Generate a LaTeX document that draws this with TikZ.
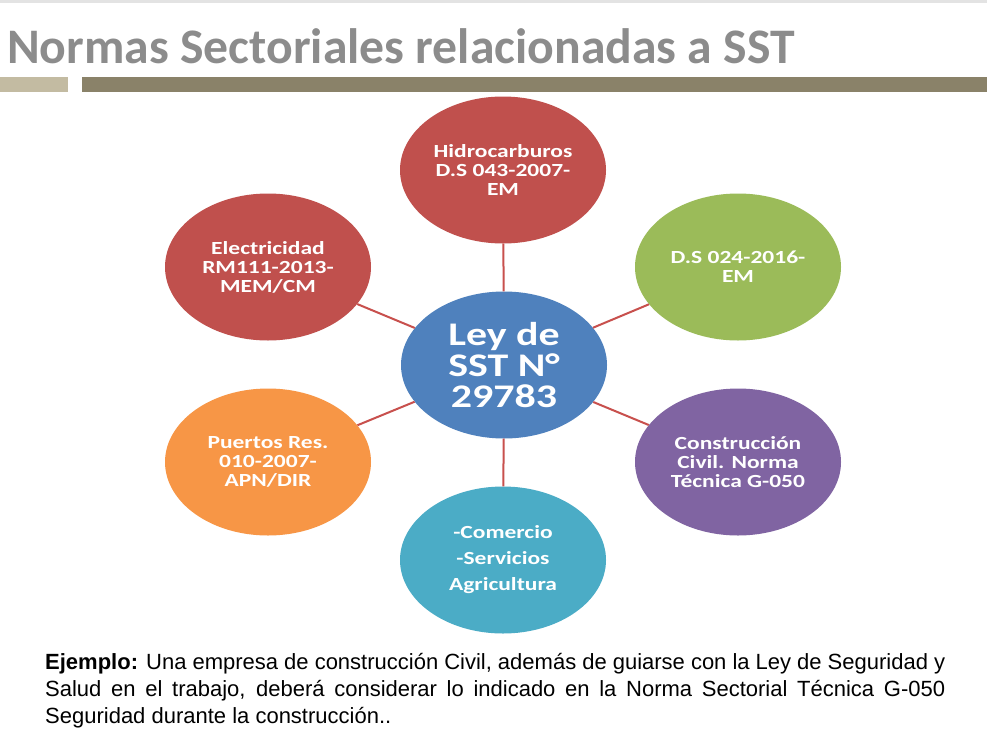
\documentclass[tikz,border=0pt]{standalone}
\usepackage{fontspec}
\usetikzlibrary{shapes.geometric}
\newfontfamily\titlefont{Carlito}
\newfontfamily\circfont[FakeStretch=1.27]{Carlito}
\newfontfamily\bodyfont{Liberation Sans}
\definecolor{titlegray}{HTML}{8C8C8C}
\definecolor{tanbar}{HTML}{C3BBA2}
\definecolor{olivebar}{HTML}{8A8269}
\definecolor{topline}{HTML}{E3E3E3}
\definecolor{cred}{HTML}{C0504D}
\definecolor{cgreen}{HTML}{9BBB59}
\definecolor{cpurple}{HTML}{8064A2}
\definecolor{corange}{HTML}{F79646}
\definecolor{cteal}{HTML}{4BACC6}
\definecolor{cblue}{HTML}{4F81BD}
\definecolor{lred}{HTML}{C8504D}
\tikzset{
  bubble/.style={ellipse, minimum width=206pt, minimum height=147pt, inner sep=0pt,
    text=white, align=center, font=\circfont\bfseries\fontsize{18.5}{19}\selectfont},
  hub/.style={bubble, font=\circfont\bfseries\fontsize{33}{31}\selectfont},
  conn/.style={draw=lred, line width=2pt}
}
\begin{document}
\begin{tikzpicture}[x=1pt,y=-1pt]
\useasboundingbox (0,0) rectangle (987,742);
\fill[white] (0,0) rectangle (987,742);
\fill[topline] (0,0) rectangle (987,2.5);
\node[anchor=base west, inner sep=0pt, text=titlegray, font=\titlefont\bfseries\fontsize{49.7}{55}\selectfont] (title) at (7,63) {Normas Sectoriales relacionadas a SST};
\fill[tanbar] (0,77) rectangle (68,92);
\fill[olivebar] (82,77) rectangle (987,92);

\node[bubble, fill=cblue] (hub) at (504,365) {};
\node[bubble, fill=cred] (hidro) at (503,170) {Hidrocarburos\\D.S 043-2007-\\EM};
\node[bubble, fill=cred] (elec) at (268,267) {Electricidad\\RM111-2013-\\MEM/CM};
\node[bubble, fill=cgreen] (ds) at (738,267) {D.S 024-2016-\\EM};
\node[bubble, fill=corange] (puertos) at (268,462) {Puertos Res.\\010-2007-\\APN/DIR};
\node[bubble, fill=cpurple] (constr) at (738,462) {Construcción\\Civil. Norma\\Técnica G-050};
\node[bubble, fill=cteal, font=\circfont\bfseries\fontsize{18.5}{26}\selectfont] (comer) at (503,560) {-Comercio\\-Servicios\\Agricultura};
\node[hub, fill=none] (hubtext) at (504,365) {Ley de\\SST N°\\29783};

\foreach \n in {hidro,elec,ds,puertos,constr,comer}{\draw[conn] (hub) -- (\n);}

\node[anchor=north west, inner sep=0pt, text width=900pt, align=justify,
  font=\bodyfont\fontsize{22}{27}\selectfont] (note) at (45,653)
  {\textbf{Ejemplo:} Una empresa de construcción Civil, además de guiarse con la Ley de Seguridad y\linebreak Salud en el trabajo, deberá considerar lo indicado en la Norma Sectorial Técnica G-050\linebreak Seguridad durante la construcción..};
\end{tikzpicture}
\end{document}
